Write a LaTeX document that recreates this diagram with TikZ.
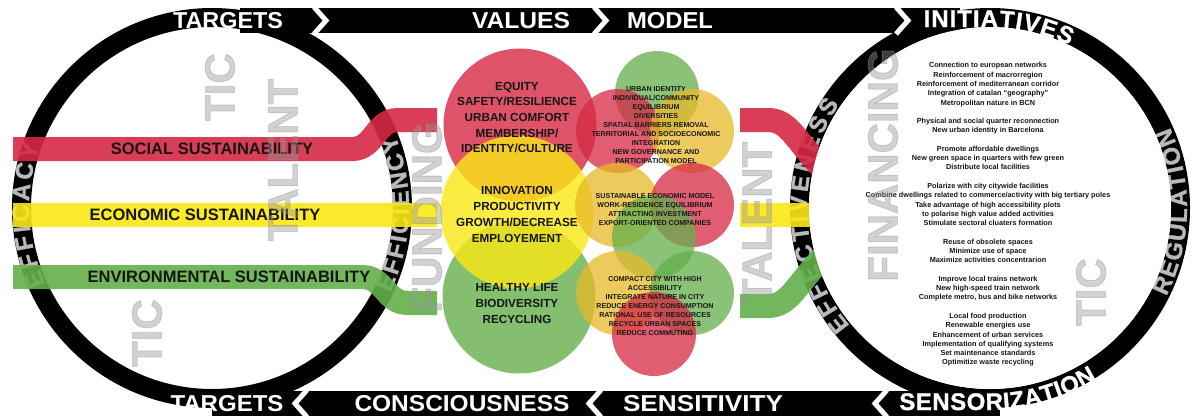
\documentclass[tikz,border=0pt]{standalone}
\usepackage{fontspec}
\usepackage{graphicx}
\setmainfont{Liberation Sans}
\usetikzlibrary{calc}
\definecolor{cRed}{RGB}{215,40,68}
\definecolor{cYel}{RGB}{250,232,20}
\definecolor{cGrn}{RGB}{100,176,76}
\definecolor{cGold}{RGB}{232,185,40}
\definecolor{ringgray}{RGB}{185,185,185}
\definecolor{wmgray}{RGB}{150,150,150}
\definecolor{txtc}{RGB}{22,22,22}
\newcommand\ringfont{\bfseries\fontsize{24}{24}\selectfont\addfontfeature{FakeBold=1.2}}
\newcommand\bandfont{\bfseries\fontsize{23}{23}\selectfont}
\newcommand\curvefont{\bfseries\fontsize{24}{24}\selectfont\addfontfeature{FakeBold=1.2}}
% letters along a path: straight tangent run (s<0) followed by an arc (s>=0)
% #1 centre, #2 radius, #3 arc start angle, #4 direction, #5 middle position, #6 spacing, #7 font, #8 style, #9 letters
\newcommand\pathword[9]{%
 \begingroup#7%
 \gdef\pwtot{0}%
 \foreach \ch in {#9}{\pgfmathsetmacro\pwtmp{\pwtot+width("\ch")+(#6)}\xdef\pwtot{\pwtmp}}%
 \pgfmathsetmacro\pwstart{(#5)-(\pwtot-(#6))/2}\xdef\pwpos{\pwstart}%
 \foreach \ch in {#9}{%
   \pgfmathsetmacro\pww{width("\ch")}%
   \pgfmathsetmacro\pws{\pwpos+\pww/2}%
   \pgfmathsetmacro\pwang{(#3)+(#4)*(max(\pws,0)/(#2))*57.29578}%
   \pgfmathsetmacro\pwrot{\pwang+(#4)*90}%
   \pgfmathsetmacro\pwneg{min(\pws,0)}%
   \node[#8,font=#7,inner sep=0,anchor=base,rotate=\pwrot] at ($(#1)+(\pwang:#2pt)+(\pwrot:\pwneg pt)$) {\ch};
   \pgfmathsetmacro\pwtmp{\pwpos+\pww+(#6)}\xdef\pwpos{\pwtmp}%
 }%
 \endgroup}
\begin{document}
\begin{tikzpicture}[x=1pt,y=-1pt,
  vcirc/.style={circle,inner sep=0,minimum size=153pt,fill=#1,fill opacity=0.8,draw=none},
  mcirc/.style={circle,inner sep=0,minimum size=84pt,fill=#1,fill opacity=0.75,draw=none},
  strand/.style={draw=#1,line width=24pt,draw opacity=0.9},
  ring/.style={draw=black,line width=19pt},
  chev/.style={draw=white,line width=5pt,miter limit=10},
  bandtxt/.style={text=white,font=\bandfont,inner sep=0},
  lbl/.style={text=txtc,font=\bfseries\fontsize{16.5}{18}\selectfont,inner sep=0},
  vtxt/.style={text=txtc,font=\bfseries\fontsize{11.7}{15.7}\selectfont,align=center,inner sep=0},
  mtxt/.style={text=txtc,font=\bfseries\fontsize{7.1}{9}\selectfont,align=center,inner sep=0},
  itxt/.style={text=txtc,font=\bfseries\fontsize{7.3}{9.28}\selectfont,align=center,inner sep=0},
  wm/.style={text=wmgray,text opacity=0.42,font=\bfseries\fontsize{42}{42}\selectfont\addfontfeature{FakeBold=2},rotate=90,inner sep=0}]
\fill[white] (0,0) rectangle (1193,416);
\useasboundingbox (0,0) rectangle (1193,416);
\coordinate (L) at (212,208);
\coordinate (R) at (990,208);
% value circles
\node[vcirc=cRed] (cSoc) at (520,125) {};
\node[vcirc=cGrn] (cEnv) at (519,297) {};
\node[vcirc=cYel] (cEco) at (517,212) {};
% model circles
\node[mcirc=cGrn] (m1) at (657,93) {};
\node[mcirc=cRed] (m2) at (618,131) {};
\node[mcirc=cGold] (m3) at (692,131) {};
\node[mcirc=cGold] (m4) at (617,205) {};
\node[mcirc=cRed] (m5) at (692,205) {};
\node[mcirc=cGrn] (m6) at (654,237) {};
\node[mcirc=cGold] (m7) at (618,293) {};
\node[mcirc=cGrn] (m8) at (692,293) {};
\node[mcirc=cRed] (m9) at (654,334) {};
% rings and bands
\draw[ring] (L) circle[radius=190.5pt];
\draw[ring] (R) circle[radius=190.5pt];
\fill (240,8) rectangle (960,33);
\fill (212,391) rectangle (1000,416);
% ring words
\pathword{L}{183}{260}{-1}{248.17}{3.1}{\ringfont}{text=ringgray}{E,F,F,I,C,A,C,Y}
\pathword{L}{197}{-80}{1}{268.87}{2.2}{\ringfont}{text=ringgray}{E,F,F,I,C,I,E,N,C,Y}
\pathword{R}{183}{260}{-1}{246.89}{3.4}{\ringfont}{text=ringgray}{E,F,F,E,C,T,I,V,E,N,E,S,S}
\pathword{R}{197}{-80}{1}{270.94}{1.8}{\ringfont}{text=ringgray}{R,E,G,U,L,A,T,I,O,N}
% strands
\draw[strand=cRed] (13,149) -- (352,149) .. controls (375,149) and (375,120) .. (398,120) -- (437,120);
\draw[strand=cYel] (13,215) -- (437,215);
\draw[strand=cGrn] (13,277) -- (362,277) .. controls (385,277) and (385,303) .. (408,303) -- (437,303);
\draw[strand=cRed] (740,120) -- (768,120) .. controls (790,120) and (796,142) .. (826,172);
\draw[strand=cYel] (740,214.5) -- (810,214.5);
\draw[strand=cGrn] (740,306) -- (768,306) .. controls (790,306) and (796,284) .. (826,254);
\fill[white] (R) circle[radius=181pt];
% labels
\node[lbl] (lSoc) at (212,149) {SOCIAL SUSTAINABILITY};
\node[lbl] (lEco) at (205,215) {ECONOMIC SUSTAINABILITY};
\node[lbl] (lEnv) at (229,277) {ENVIRONMENTAL SUSTAINABILITY};
\node[vtxt] (tSoc) at (517,117.5) {EQUITY\\SAFETY/RESILIENCE\\URBAN COMFORT\\MEMBERSHIP/\\IDENTITY/CULTURE};
\node[vtxt] (tEco) at (517,214.5) {INNOVATION\\PRODUCTIVITY\\GROWTH/DECREASE\\EMPLOYEMENT};
\node[vtxt] (tEnv) at (517,303.5) {HEALTHY LIFE\\BIODIVERSITY\\RECYCLING};
\node[mtxt] (tm1) at (656,125) {URBAN IDENTITY\\INDIVIDUAL/COMMUNITY\\EQUILIBRIUM\\DIVERSITIES\\SPATIAL BARRIERS REMOVAL\\TERRITORIAL AND SOCIOECONOMIC\\INTEGRATION\\NEW GOVERNANCE AND\\PARTICIPATION MODEL};
\node[mtxt] (tm2) at (655,209.5) {SUSTAINABLE ECONOMIC MODEL\\WORK-RESIDENCE EQUILIBRIUM\\ATTRACTING INVESTMENT\\EXPORT-ORIENTED COMPANIES};
\node[mtxt] (tm3) at (655,306) {COMPACT CITY WITH HIGH\\ACCESSIBILITY\\INTEGRATE NATURE IN CITY\\REDUCE ENERGY CONSUMPTION\\RATIONAL USE OF RESOURCES\\RECYCLE URBAN SPACES\\REDUCE COMMUTING};
\node[itxt] (init) at (988,214.5) {Connection to european networks\\Reinforcement of macrorregion\\Reinforcement of mediterranean corridor\\Integration of catalan “geography”\\Metropolitan nature in BCN\\[9.28pt]%
Physical and social quarter reconnection\\New urban identity in Barcelona\\[9.28pt]%
Promote affordable dwellings\\New green space in quarters with few green\\Distribute local facilities\\[9.28pt]%
Polarize with city citywide facilities\\Combine dwellings related to commerce/activity with big tertiary poles\\Take advantage of high accessibility plots\\to polarise high value added activities\\Stimulate sectoral cluaters formation\\[9.28pt]%
Reuse of obsolete spaces\\Minimize use of space\\Maximize activities concentrarion\\[9.28pt]%
Improve local trains network\\New high-speed train network\\Complete metro, bus and bike networks\\[9.28pt]%
Local food production\\Renewable energies use\\Enhancement of urban services\\Implementation of qualifying systems\\Set maintenance standards\\Optimitize waste recycling};
% watermarks
\node[wm] (w1) at (220,87) {TIC};
\node[wm] (w2) at (283,160) {TALENT};
\node[wm] (w3) at (147,333) {TIC};
\node[wm] (w4) at (427,217) {FUNDING};
\node[wm] (w5) at (757,223) {TALENT};
\node[wm] (w6) at (883,165) {FINANCING};
\node[wm] (w7) at (1091,292) {TIC};
% chevrons
\draw[chev] (314,7) -- (326,20.5) -- (314,34);
\draw[chev] (594,7) -- (606,20.5) -- (594,34);
\draw[chev] (896,7) -- (908,20.5) -- (896,34);
\draw[chev] (307,390) -- (295,403.5) -- (307,417);
\draw[chev] (601,390) -- (589,403.5) -- (601,417);
\draw[chev] (887,390) -- (875,403.5) -- (887,417);
% band words
\node[bandtxt] (bT1) at (228,20.5) {\resizebox{110pt}{\height}{TARGETS}};
\node[bandtxt] (bVal) at (521,20.5) {\resizebox{98pt}{\height}{VALUES}};
\node[bandtxt] (bMod) at (670,20.5) {\resizebox{86pt}{\height}{MODEL}};
\node[bandtxt] (bT2) at (227,404) {\resizebox{113pt}{\height}{TARGETS}};
\node[bandtxt] (bCon) at (462,404) {\resizebox{215pt}{\height}{CONSCIOUSNESS}};
\node[bandtxt] (bSen) at (703,404) {\resizebox{160pt}{\height}{SENSITIVITY}};
\pathword{R}{181}{90}{-1}{8}{1}{\curvefont}{text=white}{I,N,I,T,I,A,T,I,V,E,S}
\pathword{R}{202}{-90}{1}{11}{0.5}{\curvefont}{text=white}{S,E,N,S,O,R,I,Z,A,T,I,O,N}
\end{tikzpicture}
\end{document}
